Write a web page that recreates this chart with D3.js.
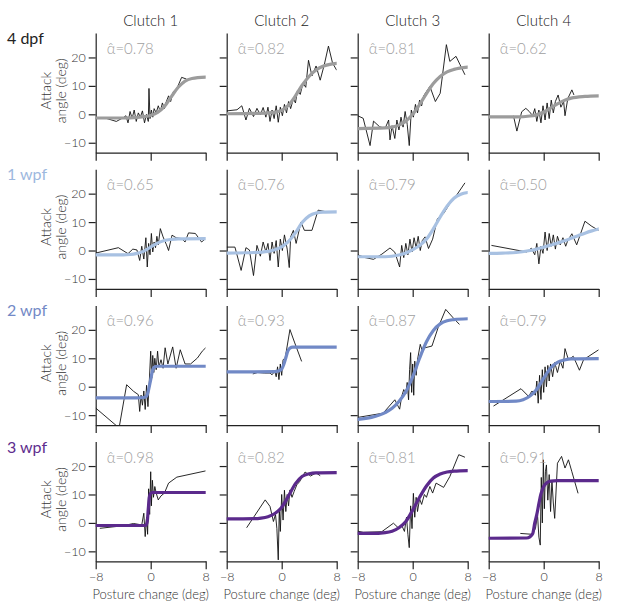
<!DOCTYPE html>
<html>
<head>
<meta charset="utf-8"/>
<style>
    body { margin: 0; background: #fff; }
    text { font-family: Lato, "Open Sans", sans-serif; font-weight: 300; }
    .axis path, .axis line { stroke: #222; stroke-width: 1.2; }
    .axis text { font-size: 12.5px; fill: #333; }
    .raw { fill: none; stroke: #111; stroke-width: 0.9; stroke-linejoin: round; }
    .fit { fill: none; stroke-width: 3.2; stroke-linecap: round; }
</style>
</head>
<body>
<svg id="graph"></svg>
<script src="https://d3js.org/d3.v7.min.js"></script>
<script>
// Labels
const clutches = ['Clutch 1', 'Clutch 2', 'Clutch 3', 'Clutch 4'];
const ages = ['4 dpf', '1 wpf', '2 wpf', '3 wpf'];
const ageColors = ['#9c9c9c', '#a8c1e2', '#7189c6', '#5b2a8c'];
const labelColors = ['#222', '#9db8de', '#7389c6', '#5e2d8e'];
const xTicks = [-8, 0, 8];
const yTicks = [-10, 0, 10, 20];

// alpha-hat per age (row) and clutch (column)
const alpha4dpf = [0.78, 0.82, 0.81, 0.62];
const alpha1wpf = [0.65, 0.76, 0.79, 0.50];
const alpha2wpf = [0.96, 0.93, 0.87, 0.79];
const alpha3wpf = [0.98, 0.82, 0.81, 0.91];

// raw traces (posture change vs attack angle), one sub-array per clutch
const raw4dpfX = [
    [-8, -6.5, -5, -4, -3.6, -3.3, -3.0, -2.7, -2.4, -2.1, -1.8, -1.5, -1.2, -0.9, -0.6, -0.35, -0.25, -0.1, 0.1, 0.3, 0.5, 0.8, 1.1, 1.4, 1.7, 2.0, 2.2, 2.6, 2.9, 3.3, 3.8, 4.5, 5.2],
    [-8, -6.5, -5.8, -5.2, -4.7, -4.1, -3.6, -3.1, -2.7, -2.3, -2.0, -1.7, -1.4, -1.1, -0.8, -0.5, -0.2, 0.1, 0.4, 0.7, 1.0, 1.3, 1.7, 2.0, 2.3, 2.7, 3.1, 3.5, 3.9, 4.4, 5.0, 5.6, 6.2, 6.8, 7.4, 8.0],
    [-8, -7.2, -6.2, -5.7, -4.8, -4.0, -3.5, -3.3, -3.0, -2.6, -2.3, -2.0, -1.7, -1.4, -1.1, -0.8, -0.5, -0.2, 0.1, 0.4, 0.7, 1.0, 1.3, 1.6, 2.0, 2.5, 3.3, 4.0, 4.9, 5.4, 6.3, 6.9, 7.6],
    [-4.4, -3.9, -3.2, -2.6, -2.1, -1.6, -1.3, -1.0, -0.7, -0.4, -0.1, 0.2, 0.5, 0.8, 1.1, 1.4, 1.7, 2.1, 2.5, 2.9, 3.1, 3.5, 4.1, 4.4]
];
const raw4dpfY = [
    [-1.5, -1.4, -2.5, -1.2, -0.5, -3.0, 1.0, -1.5, 1.5, -2.5, 0.5, -1.0, 1.2, -3.0, 0.0, -2.5, 9.1, -1.5, 1.5, -1.0, 2.0, 0.5, 3.0, 1.0, 4.0, 2.0, 4.0, 6.5, 4.5, 8.0, 9.0, 13.0, 12.4],
    [1.2, 1.6, 3.0, -2.0, 2.1, -0.8, 2.1, -0.2, 2.4, -1.0, 2.5, -2.5, 1.5, -1.5, 3.0, -2.8, 2.5, -0.5, 3.5, 0.5, 4.5, 2.0, 5.5, 4.0, 8.5, 7.0, 11.0, 9.5, 19.0, 13.5, 17.0, 12.0, 17.5, 24.0, 18.0, 15.5],
    [-0.5, -1.4, -11, -2.4, -4.4, -4.9, -2.0, -9.0, -4.0, -8.5, -2.0, -5.5, -1.0, -4.5, 1.0, -3.5, -11, 1.5, -1.0, 3.5, 0.5, 5.0, 3.0, 6.5, 8.0, 9.8, 4.5, 7.4, 24.5, 18.6, 20.4, 17.4, 13.9],
    [-0.5, -5.9, 0.9, 2.1, 1.0, -0.5, 2.0, -2.5, 1.5, -3.0, 3.0, -2.0, 4.0, -1.5, 5.0, 0.5, 4.5, 6.8, 2.5, 4.5, -0.5, 5.5, 8.6, 6.8]
];
const raw1wpfX = [
    [-8, -4.7, -3.3, -2.6, -2.0, -1.6, -1.3, -1.0, -0.7, -0.5, -0.3, -0.1, 0.1, 0.3, 0.5, 0.7, 0.9, 1.1, 1.4, 1.8, 2.3, 2.6, 3.1, 3.7, 4.5, 5.0, 5.5, 6.5, 7.4, 7.9],
    [-8, -6.8, -5.9, -5.2, -4.7, -4.1, -3.6, -3.1, -2.7, -2.3, -2.0, -1.7, -1.4, -1.1, -0.8, -0.5, -0.2, 0.1, 0.4, 0.8, 1.1, 1.3, 1.7, 2.1, 2.8, 3.3, 4.4, 5.3, 6.5],
    [-8, -6.9, -5.7, -4.5, -3.3, -2.6, -1.9, -1.6, -1.3, -1.0, -0.7, -0.4, -0.1, 0.2, 0.5, 0.8, 1.1, 1.4, 1.8, 2.3, 2.9, 3.6, 4.5, 5.4, 6.4, 7.6],
    [-7.6, -2.5, -1.8, -1.3, -1.0, -0.7, -0.4, -0.1, 0.2, 0.5, 0.8, 1.1, 1.4, 1.7, 2.0, 2.4, 2.8, 3.2, 3.5, 4.1, 4.8, 6.0, 7.0, 8.0]
];
const raw1wpfY = [
    [-0.9, 1.0, -1.1, 0.5, 0.2, -3.5, 1.5, -3.0, 4.5, -5.8, 2.5, -1.5, 6.0, -0.5, 3.0, 1.0, 5.0, 2.0, 7.7, 4.8, 2.0, 0.0, 5.4, 4.5, 4.2, 3.0, 6.2, 6.0, 3.0, 4.0],
    [1.2, 1.2, -7.0, 1.0, 0.2, -8.8, 1.8, -2.0, 3.0, -0.5, 2.5, -3.5, 3.0, -1.0, 3.5, -5.8, 4.0, 0.0, 5.5, 0.5, -6.0, 4.8, 7.1, 2.5, 10.0, 7.1, 7.1, 14.2, 13.6],
    [-1.5, -2.5, -3.1, -1.3, 0.9, -0.6, -5.8, 1.8, -2.5, 2.5, -1.5, 4.0, -0.5, 4.5, 1.0, 5.0, 0.0, 3.5, 4.8, 0.7, 4.0, 11.2, 13.0, 16.5, 19.5, 23.8],
    [1.8, -0.5, 0.8, -1.5, 2.5, -4.7, 1.5, -1.0, 6.5, 0.0, 6.0, 1.5, 5.5, 0.5, 5.0, 2.0, 4.5, 1.5, 3.5, 5.9, 2.0, 10.3, 8.5, 7.1]
];
const raw2wpfX = [
    [-8, -4.6, -3.5, -2.5, -1.8, -1.6, -1.4, -1.2, -1.0, -0.8, -0.6, -0.4, -0.2, 0.0, 0.15, 0.3, 0.45, 0.6, 0.8, 1.0, 1.2, 1.5, 1.8, 2.1, 2.5, 3.2, 3.7, 4.3, 5.0, 5.8, 6.8, 7.5, 8.0],
    [-4.2, -3.5, -2.5, -1.7, -1.4, -1.0, -0.8, -0.6, -0.4, -0.2, 0.0, 0.2, 0.5, 1.2, 1.9, 2.9],
    [-8, -4.3, -2.6, -1.9, -1.6, -1.3, -1.0, -0.8, -0.6, -0.45, -0.3, -0.15, 0.0, 0.15, 0.3, 0.5, 0.7, 1.1, 1.4, 1.8, 2.8, 3.7, 4.8, 5.9, 6.8],
    [-7.3, -3.3, -2.2, -1.7, -1.2, -1.0, -0.8, -0.6, -0.4, -0.2, 0.0, 0.2, 0.4, 0.6, 0.8, 1.0, 1.3, 1.6, 2.0, 2.4, 2.8, 3.1, 3.6, 4.3, 5.2, 5.8, 8.0]
];
const raw2wpfY = [
    [-7.5, -14.5, 0.7, -1.6, -2.8, -8.7, -3.0, -6.5, -1.5, -8.0, 0.5, -7.0, 2.0, 12.5, 3.0, 11.0, 5.0, 10.0, 6.0, 12.5, 7.0, 9.5, 6.5, 13.7, 8.0, 14.0, 6.5, 13.0, 8.0, 8.0, 10.1, 12.5, 13.7],
    [4.5, 5.0, 4.8, 4.8, 4.2, 5.5, 3.5, 7.0, 2.5, 8.0, 4.0, 9.5, 10.0, 20.1, 15.4, 8.9],
    [-10.8, -9.3, -4.6, -7.9, -3.4, -1.0, -2.5, 1.5, -4.6, 6.0, 12.0, -2.0, 8.0, -3.0, 9.0, 4.0, 9.5, 14.9, 12.5, 13.7, 14.3, 20.8, 27.2, 24.2, 21.9],
    [-6.8, -0.7, -3.4, -1.5, -3.0, 2.0, -5.8, 4.0, -4.5, 6.0, -2.0, 7.0, 0.0, 7.5, 2.0, 8.0, 3.5, 8.5, 5.0, 9.0, 6.5, 13.4, 9.5, 10.7, 5.8, 9.5, 13.0]
];
const raw3wpfX = [
    [-7.4, -4.0, -2.5, -1.3, -1.0, -0.8, -0.6, -0.45, -0.3, -0.15, 0.0, 0.1, 0.25, 0.4, 0.6, 0.8, 1.1, 1.5, 2.0, 2.6, 3.8, 8.0],
    [-5.1, -2.4, -1.7, -1.2, -0.9, -0.7, -0.5, -0.35, -0.2, 0.0, 0.2, 0.4, 0.6, 0.8, 1.0, 1.2, 1.5, 1.8, 2.2, 2.6, 3.4, 4.2, 5.0, 5.6],
    [-8, -7.2, -4.5, -2.8, -2.1, -1.6, -1.2, -0.9, -0.7, -0.5, -0.3, -0.1, 0.1, 0.3, 0.5, 0.7, 1.0, 1.3, 1.7, 2.0, 2.5, 2.9, 3.4, 4.5, 5.4, 6.7, 7.6],
    [-3.4, -1.7, -1.2, -0.9, -0.7, -0.5, -0.35, -0.2, -0.05, 0.1, 0.25, 0.4, 0.6, 0.8, 1.0, 1.2, 1.4, 1.6, 2.0, 2.6, 3.1, 3.6, 4.1, 5.0]
];
const raw3wpfY = [
    [-1.9, -1.0, -0.2, -0.7, 3.4, -4.8, 2.0, -4.0, 12.0, 3.0, 18.0, 6.0, 15.0, 9.0, 12.8, 10.5, 8.1, 9.5, 10.5, 14.0, 16.1, 18.3],
    [-1.7, 8.1, 5.8, 0.5, 3.0, -2.0, -13.0, 5.0, -3.0, 10.0, 1.0, 11.5, 4.0, 10.0, 6.0, 11.6, 9.0, 11.0, 13.4, 14.5, 17.9, 16.5, 17.6, 16.6],
    [-2.9, -3.3, -3.1, -0.1, -1.7, -0.8, -3.0, 2.0, -4.0, -8.7, 6.0, -2.0, 10.4, 2.0, 9.0, 4.0, 8.5, 6.5, 10.0, 9.0, 12.8, 10.5, 14.0, 12.5, 16.3, 24.0, 23.1],
    [-3.7, -4.0, -2.0, 3.0, -5.0, -7.8, 16.0, 0.0, 22.2, 5.0, 18.0, 20.4, 8.0, 17.0, 4.0, 15.0, 7.0, 1.6, 21.0, 23.4, 19.3, 22.2, 18.0, 10.4]
];

// sigmoid fits
const fit4dpfX = [
    [-8, -4, -2, -1, 0, 1, 2, 3, 4, 5, 6, 8],
    [-8, -4, -2, -1, 0, 1, 2, 3, 4, 5, 6, 8],
    [-8, -4, -3, -2, -1, 0, 1, 2, 3, 4, 5, 6, 8],
    [-8, -4, -2, -1, 0, 1, 2, 3, 4, 6, 8]
];
const fit4dpfY = [
    [-1.3, -1.3, -1.1, -0.8, -0.4, 0.7, 2.8, 6.2, 9.5, 11.7, 12.6, 13.1],
    [0.2, 0.3, 0.5, 0.8, 1.4, 3.2, 6.5, 10.3, 13.4, 15.6, 16.9, 17.9],
    [-5.0, -4.8, -4.5, -3.8, -2.4, 0.0, 3.4, 7.3, 10.8, 13.3, 14.9, 15.8, 16.6],
    [-0.9, -0.9, -0.6, -0.1, 0.8, 2.2, 3.7, 4.9, 5.7, 6.3, 6.5]
];
const fit1wpfX = [
    [-8, -4, -3, -2, -1, 0, 1, 2, 3, 4, 8],
    [-8, -4, -2, -1, 0, 1, 2, 3, 4, 5, 6, 8],
    [-8, -4, -2, -1, 0, 1, 2, 3, 4, 5, 6, 7, 8],
    [-8, -6, -4, -2, -1, 0, 1, 2, 3, 4, 5, 6, 7, 8]
];
const fit1wpfY = [
    [-1.5, -1.5, -1.4, -1.0, -0.2, 1.2, 2.6, 3.5, 3.9, 4.1, 4.2],
    [-0.9, -0.7, -0.3, 0.3, 1.3, 3.2, 6.2, 9.9, 12.2, 13.2, 13.5, 13.6],
    [-2.2, -2.2, -1.6, -0.9, 0.3, 1.8, 4.0, 7.6, 11.8, 15.6, 18.4, 19.8, 20.4],
    [-1.0, -0.9, -0.7, 0.0, 0.5, 1.2, 1.9, 2.6, 3.4, 4.3, 5.2, 6.1, 6.9, 7.6]
];
const fit2wpfX = [
    [-8, -2, -1, -0.6, -0.3, 0, 0.3, 0.6, 1, 8],
    [-8, -1, -0.5, 0, 0.3, 0.6, 0.9, 1.2, 1.6, 8],
    [-8, -6, -4, -3, -2, -1, 0, 1, 2, 3, 4, 5, 6, 8],
    [-8, -4, -3, -2, -1, 0, 1, 2, 3, 4, 8]
];
const fit2wpfY = [
    [-3.9, -3.9, -3.8, -3.3, -1.0, 2.5, 6.0, 7.0, 7.2, 7.2],
    [5.2, 5.3, 5.5, 6.2, 7.8, 10.2, 12.6, 13.6, 13.9, 13.9],
    [-11.5, -10.8, -9.1, -7.6, -5.2, -1.8, 3.5, 10.0, 15.8, 19.8, 22.1, 23.2, 23.6, 23.9],
    [-5.2, -5.1, -4.6, -3.3, -0.9, 3.0, 6.6, 8.6, 9.4, 9.8, 9.9]
];
const fit3wpfX = [
    [-8, -1, -0.7, -0.5, -0.35, -0.2, 0, 0.3, 8],
    [-8, -4, -3, -2, -1, 0, 1, 2, 3, 4, 5, 8],
    [-8, -6, -4, -3, -2, -1, 0, 1, 2, 3, 4, 5, 6, 8],
    [-8, -2.5, -2, -1.6, -1.3, -1, -0.7, -0.4, 0, 0.5, 1, 2, 8]
];
const fit3wpfY = [
    [-0.9, -0.9, -0.8, 0.5, 5.0, 9.0, 10.4, 10.7, 10.7],
    [1.4, 1.5, 1.7, 2.2, 3.3, 5.5, 9.5, 13.8, 16.4, 17.3, 17.6, 17.7],
    [-3.7, -3.7, -3.4, -2.9, -1.7, 0.5, 4.5, 9.0, 13.0, 15.8, 17.2, 17.9, 18.2, 18.4],
    [-5.4, -5.3, -4.9, -3.8, 0.0, 3.0, 6.8, 10.2, 12.8, 14.2, 14.7, 14.9, 14.9]
];

const alphaRows = [alpha4dpf, alpha1wpf, alpha2wpf, alpha3wpf];
const rawXRows = [raw4dpfX, raw1wpfX, raw2wpfX, raw3wpfX];
const rawYRows = [raw4dpfY, raw1wpfY, raw2wpfY, raw3wpfY];
const fitXRows = [fit4dpfX, fit1wpfX, fit2wpfX, fit3wpfX];
const fitYRows = [fit4dpfY, fit1wpfY, fit2wpfY, fit3wpfY];

// layout
var width = 617, height = 608;
var left0 = 95.7, colStep = 131, panelW = 110;
var top0 = 33, rowStep = 136.2, panelH = 119.7;

var svg = d3.select('#graph')
    .attr('width', width)
    .attr('height', height);

var x = d3.scaleLinear().domain([-8, 8]).range([0, panelW]);
var y = d3.scaleLinear().domain([-13.5, 28.6]).range([panelH, 0]);

var line = d3.line()
    .x(function(d){ return x(d[0]); })
    .y(function(d){ return y(d[1]); });
var fitLine = d3.line()
    .x(function(d){ return x(d[0]); })
    .y(function(d){ return y(d[1]); })
    .curve(d3.curveMonotoneX);

svg.append('defs').append('clipPath')
    .attr('id', 'panel-clip')
    .append('rect')
    .attr('x', 0).attr('y', 0)
    .attr('width', panelW).attr('height', panelH);

// column titles
clutches.forEach(function(c, j){
    svg.append('text')
        .attr('x', left0 + j*colStep + panelW/2)
        .attr('y', 26)
        .attr('text-anchor', 'middle')
        .style('font-size', '15px')
        .style('fill', '#222')
        .text(c);
});

ages.forEach(function(age, i){
    var rowTop = top0 + i*rowStep;

    // row label
    svg.append('text')
        .attr('x', 7)
        .attr('y', rowTop + 11)
        .style('font-size', '16px')
        .style('font-weight', 400)
        .style('fill', labelColors[i])
        .text(age);

    // y label
    var yl = svg.append('text')
        .attr('transform', 'translate(55,' + (rowTop + panelH/2 - 2) + ') rotate(-90)')
        .attr('text-anchor', 'middle')
        .style('font-size', '14px')
        .style('fill', '#333');
    yl.append('tspan').attr('x', 0).attr('dy', '-0.3em').text('Attack');
    yl.append('tspan').attr('x', 0).attr('dy', '1.1em').text('angle (deg)');

    clutches.forEach(function(c, j){
        var g = svg.append('g')
            .attr('transform', 'translate(' + (left0 + j*colStep) + ',' + rowTop + ')');

        var yAxis = d3.axisLeft(y).tickValues(yTicks).tickSize(7).tickSizeOuter(0).tickPadding(3);
        if (j > 0) yAxis.tickFormat('');
        g.append('g').attr('class', 'axis').call(yAxis);

        var xAxis = d3.axisBottom(x).tickValues(xTicks).tickSize(8).tickSizeOuter(0).tickPadding(3);
        if (i < ages.length - 1) xAxis.tickFormat('');
        g.append('g').attr('class', 'axis')
            .attr('transform', 'translate(0,' + panelH + ')')
            .call(xAxis);

        var plot = g.append('g').attr('clip-path', 'url(#panel-clip)');

        var rx = rawXRows[i][j], ry = rawYRows[i][j];
        plot.append('path')
            .attr('class', 'raw')
            .attr('d', line(rx.map(function(v, k){ return [v, ry[k]]; })));

        var fx = fitXRows[i][j], fy = fitYRows[i][j];
        plot.append('path')
            .attr('class', 'fit')
            .style('stroke', ageColors[i])
            .attr('d', fitLine(fx.map(function(v, k){ return [v, fy[k]]; })));

        g.append('text')
            .attr('x', 11)
            .attr('y', 21)
            .style('font-size', '15px')
            .style('fill', '#a0a0a0')
            .text('\u03b1\u0302=' + alphaRows[i][j].toFixed(2));

        if (i === ages.length - 1) {
            g.append('text')
                .attr('x', panelW/2)
                .attr('y', panelH + 38)
                .attr('text-anchor', 'middle')
                .style('font-size', '13px')
                .style('fill', '#333')
                .text('Posture change (deg)');
        }
    });
});
</script>
</body>
</html>
